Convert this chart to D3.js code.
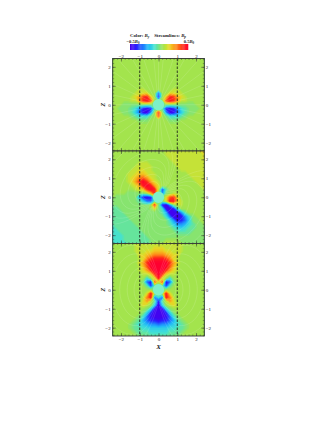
<!DOCTYPE html>
<html>
<head>
<meta charset="utf-8">
<script src="https://cdn.jsdelivr.net/npm/d3@7"></script>
<style>
  body { margin: 0; background: #fff; }
  text { font-family: "Liberation Serif", serif; fill: #222; }
</style>
</head>
<body>
<script>
var width = 327, height = 423;

var tickValues = [-2, -1, 0, 1, 2];
var barLabels = ["\u22120.5", "0.5"];
var streamAngles = [0, 12, 24, 36, 48, 60, 72, 84, 90, 96, 108, 120, 132, 144, 156, 168, 180, 192, 204, 216, 228, 240, 252, 264, 270, 276, 288, 300, 312, 324, 336, 348];
var loopRight = [
  [[0.15, 0.32], [0.5, 0.62], [0.85, 0.42], [0.95, 0], [0.85, -0.42], [0.5, -0.62], [0.15, -0.32]],
  [[0.12, 0.38], [0.55, 0.95], [1.15, 0.75], [1.38, 0], [1.15, -0.75], [0.55, -0.95], [0.12, -0.38]],
  [[0.1, 0.45], [0.6, 1.3], [1.4, 1.1], [1.8, 0], [1.4, -1.1], [0.6, -1.3], [0.1, -0.45]],
  [[0.08, 0.5], [0.65, 1.65], [1.7, 1.45], [2.25, 0], [1.7, -1.45], [0.65, -1.65], [0.08, -0.5]],
  [[0.06, 0.6], [0.7, 2.05], [2, 1.85], [2.75, 0], [2, -1.85], [0.7, -2.05], [0.06, -0.6]],
  [[0.05, 0.7], [0.75, 2.55], [2.4, 2.3], [3.3, 0], [2.4, -2.3], [0.75, -2.55], [0.05, -0.7]],
  [[0.04, 0.85], [0.8, 3.1], [2.8, 2.9], [4, 0], [2.8, -2.9], [0.8, -3.1], [0.04, -0.85]]
];
var panelTilt = [0, -40, 0];

// Bt on a 25 x 25 grid, x from -2.4 to 2.4, z from 2.4 down to -2.4, unit 0.05 B0
var fieldTop = [
  [1,1,1,1,1,1,1,1,1,1,1,1,1,1,1,1,1,1,1,1,1,1,1,1,1],
  [1,1,1,1,1,1,1,1,1,1,1,1,1,1,1,1,1,1,1,1,1,1,1,1,1],
  [1,1,1,1,1,1,1,1,1,1,1,1,1,1,1,1,1,1,1,1,1,1,1,1,1],
  [1,1,1,1,1,1,1,1,1,1,1,1,1,1,1,1,1,1,1,1,1,1,1,1,1],
  [1,1,1,1,1,1,1,1,1,1,1,1,1,1,1,1,1,1,1,1,1,1,1,1,1],
  [1,1,1,1,1,1,1,1,1,1,1,1,1,1,1,1,1,1,1,1,1,1,1,1,1],
  [1,1,1,1,1,1,1,1,1,1,1,1,1,1,1,1,1,1,1,1,1,1,1,1,1],
  [1,1,1,1,1,1,1,1,1,1,1,1,1,1,1,1,1,1,1,1,1,1,1,1,1],
  [1,1,1,1,1,1,1,2,2,1,1,1,1,1,1,1,2,2,1,1,1,1,1,1,1],
  [1,1,1,1,1,1,2,2,3,3,1,1,-6,1,1,3,3,2,2,1,1,1,1,1,1],
  [1,1,1,1,1,2,3,5,8,9,4,1,-8,1,4,9,8,5,3,2,1,1,1,1,1],
  [1,1,1,1,1,2,2,5,8,9,7,1,0,1,7,9,8,5,2,2,1,1,1,1,1],
  [1,1,1,0,0,0,0,0,0,0,0,0,0,0,0,0,0,0,0,0,0,0,1,1,1],
  [1,1,0,0,0,-1,-2,-5,-8,-9,-8,-1,0,-1,-8,-9,-8,-5,-2,-1,0,0,0,1,1],
  [1,1,1,0,0,-1,-3,-6,-9,-10,-5,1,8,1,-5,-10,-9,-6,-3,-1,0,0,1,1,1],
  [1,1,1,1,1,0,-1,-2,-2,-2,0,1,7,1,0,-2,-2,-2,-1,0,1,1,1,1,1],
  [1,1,1,1,1,1,1,0,0,0,1,1,1,1,1,0,0,0,1,1,1,1,1,1,1],
  [1,1,1,1,1,1,1,1,1,1,1,1,1,1,1,1,1,1,1,1,1,1,1,1,1],
  [1,1,1,1,1,1,1,1,1,1,1,1,1,1,1,1,1,1,1,1,1,1,1,1,1],
  [1,1,1,1,1,1,1,1,1,1,1,1,1,1,1,1,1,1,1,1,1,1,1,1,1],
  [1,1,1,1,1,1,1,1,1,1,1,1,1,1,1,1,1,1,1,1,1,1,1,1,1],
  [1,1,1,1,1,1,1,1,1,1,1,1,1,1,1,1,1,1,1,1,1,1,1,1,1],
  [1,1,1,1,1,1,1,1,1,1,1,1,1,1,1,1,1,1,1,1,1,1,1,1,1],
  [1,1,1,1,1,1,1,1,1,1,1,1,1,1,1,1,1,1,1,1,1,1,1,1,1],
  [1,1,1,1,1,1,1,1,1,1,1,1,1,1,1,1,1,1,1,1,1,1,1,1,1]
];
var fieldMiddle = [
  [1,1,1,1,1,1,1,1,1,1,1,1,1,1,2,2,2,2,2,2,2,2,2,3,3],
  [1,1,1,1,1,1,1,1,1,1,1,1,1,1,2,2,2,2,2,2,2,2,2,2,3],
  [1,1,1,1,1,1,1,1,1,1,1,1,1,1,1,2,2,2,2,2,2,2,2,2,3],
  [1,1,1,1,1,1,1,2,2,2,1,1,1,1,1,1,2,2,2,2,2,2,2,2,2],
  [1,1,1,1,1,1,2,2,2,2,2,1,1,1,1,1,1,2,2,2,2,2,2,2,2],
  [1,1,1,1,1,2,2,3,3,2,2,1,1,1,1,1,1,1,2,2,2,2,2,2,2],
  [1,1,1,1,2,2,3,4,4,3,2,2,1,1,1,1,1,1,1,1,2,2,2,2,2],
  [1,1,1,1,2,3,4,6,7,5,3,2,1,1,1,1,1,1,1,1,1,2,2,2,2],
  [1,1,1,1,2,3,5,8,10,8,5,3,2,1,1,1,1,1,1,1,1,1,2,2,2],
  [1,1,1,1,1,2,3,5,9,10,9,5,3,1,1,1,1,1,1,1,1,1,1,2,2],
  [1,1,1,1,1,1,2,3,4,8,10,9,2,-7,-1,1,1,1,1,1,1,1,1,1,2],
  [1,1,1,1,0,0,0,0,0,1,4,8,2,-5,0,1,2,2,1,1,1,1,1,1,1],
  [1,0,0,0,0,0,0,-4,-8,-9,-8,0,0,0,3,7,8,3,1,1,1,1,1,1,1],
  [0,0,0,0,0,0,0,-1,-3,-6,-7,-1,0,0,3,9,9,4,2,1,1,1,1,1,1],
  [0,0,0,0,0,0,0,0,0,0,1,8,0,-8,-10,-5,0,2,2,1,1,1,1,1,1],
  [-1,-1,0,0,0,0,0,0,0,0,1,3,0,-2,-9,-10,-8,-2,1,1,1,1,1,1,1],
  [-1,-1,-1,0,0,0,0,0,0,0,0,0,0,-1,-4,-10,-10,-9,-5,-1,1,1,1,1,1],
  [-1,-1,-1,-1,0,0,0,0,0,0,0,0,0,0,-2,-6,-10,-10,-9,-5,-2,0,1,1,1],
  [-1,-1,-1,-1,-1,0,0,0,0,0,0,0,0,0,0,-2,-5,-9,-8,-6,-3,0,0,1,1],
  [-1,-1,-1,-1,-1,-1,0,0,0,0,0,0,0,0,0,-1,-3,-5,-5,-4,-2,-1,0,0,1],
  [-2,-1,-1,-1,-1,-1,-1,0,0,0,0,0,0,0,0,0,-1,-2,-3,-2,-1,-1,0,0,0],
  [-2,-2,-1,-1,-1,-1,-1,-1,0,0,0,0,0,0,0,0,0,-1,-1,-1,-1,0,0,0,0],
  [-2,-2,-2,-1,-1,-1,-1,-1,-1,0,0,0,0,0,0,0,0,0,0,0,0,0,0,0,0],
  [-2,-2,-2,-1,-1,-1,-1,-1,-1,-1,0,0,0,0,1,1,1,1,0,0,0,0,0,0,0],
  [-2,-2,-2,-2,-1,-1,-1,-1,-1,-1,0,1,1,1,2,2,2,1,1,0,0,0,0,0,0]
];
var fieldBottom = [
  [1,1,1,1,1,1,2,2,2,2,2,2,2,2,2,2,2,2,2,1,1,1,1,1,1],
  [1,1,1,1,1,1,2,2,2,2,2,3,3,3,2,2,2,2,2,1,1,1,1,1,1],
  [1,1,1,1,1,1,2,2,2,3,3,4,4,4,3,3,2,2,2,1,1,1,1,1,1],
  [1,1,1,1,1,1,1,3,3,4,5,6,6,6,5,4,3,3,1,1,1,1,1,1,1],
  [1,1,1,1,1,1,1,2,3,6,8,9,9,9,8,6,3,2,1,1,1,1,1,1,1],
  [1,1,1,1,1,1,1,3,5,8,10,10,10,10,10,8,5,3,1,1,1,1,1,1,1],
  [1,1,1,1,1,1,1,2,4,7,10,10,10,10,10,7,4,2,1,1,1,1,1,1,1],
  [1,1,1,1,1,1,1,2,3,5,8,10,10,10,8,5,3,2,1,1,1,1,1,1,1],
  [1,1,1,1,1,1,1,1,2,2,3,8,10,8,3,2,2,1,1,1,1,1,1,1,1],
  [1,1,1,1,1,1,1,1,1,-2,1,3,9,3,1,-2,1,1,1,1,1,1,1,1,1],
  [1,1,1,1,1,1,1,1,0,-6,-9,7,2,7,-9,-6,0,1,1,1,1,1,1,1,1],
  [1,1,1,1,1,1,1,1,1,-1,-7,-1,0,-1,-7,-1,1,1,1,1,1,1,1,1,1],
  [1,1,1,1,1,1,1,1,1,1,1,0,0,0,1,1,1,1,1,1,1,1,1,1,1],
  [1,1,1,1,1,1,1,1,1,3,9,1,0,1,9,3,1,1,1,1,1,1,1,1,1],
  [1,1,1,1,1,1,1,1,2,6,9,-6,-2,-6,9,6,2,1,1,1,1,1,1,1,1],
  [1,1,1,1,1,1,1,1,3,5,2,-1,-8,-1,2,5,3,1,1,1,1,1,1,1,1],
  [1,1,1,1,1,1,1,2,3,2,1,-3,-10,-3,1,2,3,2,1,1,1,1,1,1,1],
  [1,1,1,1,1,1,1,1,1,0,-3,-9,-10,-9,-3,0,1,1,1,1,1,1,1,1,1],
  [1,1,1,1,1,1,1,1,0,-3,-8,-10,-10,-10,-8,-3,0,1,1,1,1,1,1,1,1],
  [1,1,1,1,1,1,1,0,-2,-6,-9,-10,-10,-10,-9,-6,-2,0,1,1,1,1,1,1,1],
  [1,1,1,1,1,1,0,-1,-4,-6,-8,-8,-9,-8,-8,-6,-4,-1,0,1,1,1,1,1,1],
  [1,1,1,1,1,0,-1,-2,-3,-4,-5,-5,-6,-5,-5,-4,-3,-2,-1,0,1,1,1,1,1],
  [1,1,1,1,1,0,-1,-1,-2,-2,-3,-3,-3,-3,-3,-2,-2,-1,-1,0,1,1,1,1,1],
  [1,1,1,1,1,1,0,-1,-1,-1,-2,-2,-2,-2,-2,-1,-1,-1,0,1,1,1,1,1,1],
  [1,1,1,1,1,1,1,0,0,-1,-1,-1,-1,-1,-1,-1,0,0,1,1,1,1,1,1,1]
];

// tecplot style rainbow
var colorLevels = [-10, -8, -6, -4, -2, -1, 0, 1, 2, 3, 4, 6, 8, 10];
var colorStops = ["#4400ee", "#2a20ff", "#2070ff", "#20b8f8", "#40e0d8", "#5ce4a8", "#80e478", "#9ae452", "#bce43c", "#e0dc28", "#f4c020", "#ff8018", "#ff3018", "#ff0030"];
var color = d3.scaleLinear().domain(colorLevels).range(colorStops).clamp(true);

var svg = d3.select("body").append("svg")
    .attr("width", width)
    .attr("height", height)
    .style("display", "block");

// panels, stacked with no gap
var panelLeft = 112.7, panelRight = 204.3;
var panelTops = [58.5, 151, 243.5];
var panelSize = 92.5;
var fields = [fieldTop, fieldMiddle, fieldBottom];

var scaleX = d3.scaleLinear().domain([-2.44, 2.44]).range([panelLeft, panelRight]);
var nCols = 25, nRows = 25;
var thresholds = d3.range(-10.5, 10.5, 0.5);
var contours = d3.contours().size([nCols, nRows]).thresholds(thresholds).smooth(true);
var streamLine = d3.line().curve(d3.curveBasis);

fields.forEach(function(field, k) {
  var top = panelTops[k];
  var scaleZ = d3.scaleLinear().domain([2.44, -2.44]).range([top, top + panelSize]);
  var gridX = d3.scaleLinear().domain([0.5, nCols - 0.5]).range(scaleX.range());
  var gridY = d3.scaleLinear().domain([0.5, nRows - 0.5]).range(scaleZ.range());
  var clipId = "clip" + k;

  svg.append("clipPath").attr("id", clipId).append("rect")
      .attr("x", panelLeft).attr("y", top)
      .attr("width", panelRight - panelLeft).attr("height", panelSize);

  var g = svg.append("g").attr("clip-path", "url(#" + clipId + ")");
  var path = d3.geoPath(d3.geoTransform({
    point: function(px, py) { this.stream.point(gridX(px), gridY(py)); }
  }));

  g.append("rect")
      .attr("x", panelLeft).attr("y", top)
      .attr("width", panelRight - panelLeft).attr("height", panelSize)
      .attr("fill", color(1));

  g.selectAll("path.level")
    .data(contours(field.flat()))
    .join("path")
      .attr("class", "level")
      .attr("d", path)
      .attr("fill", function(d) { return color(d.value + 0.25); });

  // streamlines
  var lines = [];
  if (k == 0) {
    streamAngles.forEach(function(a) {
      var t = a * Math.PI / 180;
      lines.push([[0.35 * Math.cos(t), 0.35 * Math.sin(t)], [4 * Math.cos(t), 4 * Math.sin(t)]]);
    });
  } else {
    var tilt = panelTilt[k] * Math.PI / 180;
    loopRight.forEach(function(loop) {
      [1, -1].forEach(function(side) {
        lines.push(loop.map(function(p) {
          var px = side * p[0], pz = p[1];
          return [px * Math.cos(tilt) - pz * Math.sin(tilt), px * Math.sin(tilt) + pz * Math.cos(tilt)];
        }));
      });
    });
  }
  g.selectAll("path.stream")
    .data(lines)
    .join("path")
      .attr("class", "stream")
      .attr("d", function(d) {
        return streamLine(d.map(function(p) { return [scaleX(p[0]), scaleZ(p[1])]; }));
      })
      .attr("fill", "none")
      .attr("stroke", "#fff")
      .attr("stroke-opacity", 0.25)
      .attr("stroke-width", 0.5);

  // central sphere
  g.append("ellipse")
      .attr("cx", scaleX(0)).attr("cy", scaleZ(0))
      .attr("rx", scaleX(0.3) - scaleX(0)).attr("ry", scaleZ(0) - scaleZ(0.3))
      .attr("fill", "#7df0c8");

  // dashed lines at x = -1 and 1
  g.selectAll("line.dash")
    .data([-1, 1])
    .join("line")
      .attr("class", "dash")
      .attr("x1", scaleX).attr("x2", scaleX)
      .attr("y1", top).attr("y2", top + panelSize)
      .attr("stroke", "#111")
      .attr("stroke-width", 0.8)
      .attr("stroke-dasharray", "2.5,1.5");

  // axes, ticks point inward
  function addAxis(axisFn, scale, tx, ty, pad, labelled) {
    var minor = svg.append("g").attr("transform", "translate(" + tx + "," + ty + ")")
        .call(axisFn(scale).tickValues(d3.range(-2.4, 2.41, 0.2)).tickSize(-1.5).tickFormat(""));
    minor.select(".domain").remove();
    minor.selectAll("line").attr("stroke", "#333").attr("stroke-width", 0.4);
    var major = svg.append("g").attr("transform", "translate(" + tx + "," + ty + ")")
        .call(axisFn(scale).tickValues(tickValues).tickSize(-3).tickPadding(pad)
          .tickFormat(labelled ? function(d) { return d < 0 ? "\u2212" + (-d) : d; } : ""));
    major.select(".domain").remove();
    major.selectAll("line").attr("stroke", "#333").attr("stroke-width", 0.5);
    major.selectAll("text").style("font-size", "5px").style("font-family", "Liberation Serif").attr("fill", "#333");
  }
  addAxis(d3.axisTop, scaleX, 0, top, 1, k == 0);
  addAxis(d3.axisBottom, scaleX, 0, top + panelSize, 1, k == 2);
  addAxis(d3.axisLeft, scaleZ, panelLeft, 0, 2, true);
  addAxis(d3.axisRight, scaleZ, panelRight, 0, 1.5, true);

  svg.append("rect")
      .attr("x", panelLeft).attr("y", top)
      .attr("width", panelRight - panelLeft).attr("height", panelSize)
      .attr("fill", "none")
      .attr("stroke", "#333")
      .attr("stroke-width", 0.9);

  svg.append("text")
      .attr("transform", "translate(104.5," + scaleZ(0) + ") rotate(-90)")
      .attr("text-anchor", "middle")
      .style("font-size", "6px")
      .style("font-weight", "bold")
      .style("font-style", "italic")
      .text("Z");
});

svg.append("text")
    .attr("x", scaleX(0))
    .attr("y", 348.5)
    .attr("text-anchor", "middle")
    .style("font-size", "7px")
    .style("font-weight", "bold")
    .style("font-style", "italic")
    .text("X");

// colour bar
var barScale = d3.scaleLinear().domain([-10, 10]).range([130, 188]);
svg.selectAll("rect.bar")
  .data(d3.range(-10, 10, 0.4))
  .join("rect")
    .attr("class", "bar")
    .attr("x", barScale)
    .attr("y", 44)
    .attr("width", barScale(0.5) - barScale(0))
    .attr("height", 6)
    .attr("fill", function(d) { return color(d); });

var title = svg.append("text")
    .attr("x", 158)
    .attr("y", 36.5)
    .attr("text-anchor", "middle")
    .style("font-size", "4.8px")
    .style("font-weight", "bold");
title.append("tspan").text("Color: ");
title.append("tspan").style("font-style", "italic").text("B");
title.append("tspan").attr("dy", 1).style("font-size", "3.4px").style("font-style", "italic").text("y");
title.append("tspan").attr("dy", -1).attr("dx", 5).text("Streamlines: ");
title.append("tspan").style("font-style", "italic").text("B");
title.append("tspan").attr("dy", 1).style("font-size", "3.4px").style("font-style", "italic").text("p");

[[133, barLabels[0]], [189, barLabels[1]]].forEach(function(d) {
  var t = svg.append("text")
      .attr("x", d[0]).attr("y", 43)
      .attr("text-anchor", "middle")
      .style("font-size", "4.6px")
      .style("font-weight", "bold");
  t.append("tspan").text(d[1]);
  t.append("tspan").style("font-style", "italic").text("B");
  t.append("tspan").attr("dy", 1).style("font-size", "3.2px").text("0");
});
</script>
</body>
</html>
